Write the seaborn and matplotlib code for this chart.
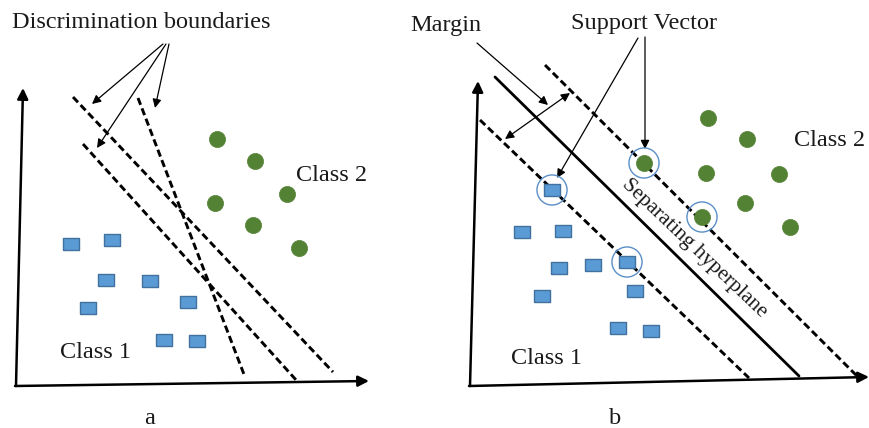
import matplotlib
matplotlib.use("Agg")
import matplotlib.pyplot as plt
import seaborn as sns
import pandas as pd

# ---------------- data (pixel coordinates of the diagram) ----------------
# Panel a
a_class1_x = [71, 112, 106, 150, 88, 188, 164, 197]
a_class1_y = [244, 240, 280, 281, 308, 302, 340, 341]
a_class2_x = [217, 255, 287, 215, 253, 299]
a_class2_y = [139, 161, 194, 203, 225, 248]
a_bound_x0 = [73, 83, 138]
a_bound_y0 = [97, 144, 98]
a_bound_x1 = [333, 297, 245]
a_bound_y1 = [372, 381, 377]
a_arrow_tx = [92, 97, 155]
a_arrow_ty = [104, 148, 108]
a_arrow_sx = [163, 166, 169]
a_arrow_sy = [44, 44, 44]

# Panel b
b_class1_x = [552, 522, 563, 559, 593, 627, 635, 542, 618, 651]
b_class1_y = [190, 232, 231, 268, 265, 262, 291, 296, 328, 331]
b_class2_x = [644, 702, 708, 747, 706, 779, 745, 790]
b_class2_y = [163, 217, 118, 139, 173, 174, 203, 227]
b_sv_x = [644, 702, 552, 627]
b_sv_y = [163, 217, 190, 262]
b_hyper_x = [495, 799]
b_hyper_y = [77, 376]
b_upper_x = [545, 858]
b_upper_y = [65, 377]
b_lower_x = [480, 749]
b_lower_y = [120, 378]

labels = {
    "title_a": "Discrimination boundaries",
    "margin": "Margin",
    "sv": "Support Vector",
    "hyper": "Separating hyperplane",
    "c1": "Class 1",
    "c2": "Class 2",
}

# ---------------- style ----------------
sns.set_theme(style="white")
plt.rcParams["font.family"] = ["Liberation Serif", "DejaVu Serif"]

BLUE = "#5B9BD5"
BLUE_EDGE = "#41719C"
GREEN = "#548235"
RING = "#5B8FC7"

fig = plt.figure(figsize=(8.69, 4.28), dpi=100)
ax = fig.add_axes([0, 0, 1, 1])
ax.set_xlim(0, 869)
ax.set_ylim(428, 0)
ax.axis("off")

rect = [(-1, -0.74), (1, -0.74), (1, 0.74), (-1, 0.74), (-1, -0.74)]

pts = pd.DataFrame({
    "x": a_class1_x + b_class1_x + a_class2_x + b_class2_x,
    "y": a_class1_y + b_class1_y + a_class2_y + b_class2_y,
    "cls": ["Class 1"] * (len(a_class1_x) + len(b_class1_x))
           + ["Class 2"] * (len(a_class2_x) + len(b_class2_x)),
})
c1 = pts[pts.cls == "Class 1"]
c2 = pts[pts.cls == "Class 2"]
sns.scatterplot(data=c1, x="x", y="y", marker=rect, s=135, color=BLUE,
                edgecolor=BLUE_EDGE, linewidth=1.0, ax=ax, legend=False, zorder=3)
sns.scatterplot(data=c2, x="x", y="y", marker="o", s=135, color=GREEN,
                edgecolor=GREEN, linewidth=0.5, ax=ax, legend=False, zorder=3)

# support-vector rings
sns.scatterplot(x=b_sv_x, y=b_sv_y, marker="o", s=470, facecolor="none",
                edgecolor=RING, linewidth=1.0, ax=ax, legend=False, zorder=4)

axis_kw = dict(arrowstyle="-|>", lw=1.8, color="black", mutation_scale=16,
               shrinkA=0, shrinkB=0)
# axes of panel a
ax.annotate("", xy=(23, 88), xytext=(16, 386), arrowprops=axis_kw)
ax.annotate("", xy=(369, 381), xytext=(15, 386), arrowprops=axis_kw)
# axes of panel b
ax.annotate("", xy=(478, 81), xytext=(470, 386), arrowprops=axis_kw)
ax.annotate("", xy=(869, 377), xytext=(469, 386), arrowprops=axis_kw)

dash_kw = dict(color="black", lw=2.1, linestyle=(0, (2.5, 1.3)), zorder=2)
for x0, y0, x1, y1 in zip(a_bound_x0, a_bound_y0, a_bound_x1, a_bound_y1):
    ax.plot([x0, x1], [y0, y1], **dash_kw)
ax.plot(b_upper_x, b_upper_y, **dash_kw)
ax.plot(b_lower_x, b_lower_y, **dash_kw)
ax.plot(b_hyper_x, b_hyper_y, color="black", lw=2.0, zorder=2)

thin_kw = dict(arrowstyle="-|>", lw=0.9, color="black", mutation_scale=13,
               shrinkA=0, shrinkB=0)
for sx, sy, tx, ty in zip(a_arrow_sx, a_arrow_sy, a_arrow_tx, a_arrow_ty):
    ax.annotate("", xy=(tx, ty), xytext=(sx, sy), arrowprops=thin_kw)

# margin arrows
ax.annotate("", xy=(548, 105), xytext=(477, 43), arrowprops=thin_kw)
ax.annotate("", xy=(570, 93), xytext=(505, 139),
            arrowprops=dict(arrowstyle="<|-|>", lw=0.9, color="black",
                            mutation_scale=13, shrinkA=0, shrinkB=0))
# support vector arrows
ax.annotate("", xy=(557, 178), xytext=(638, 38), arrowprops=thin_kw)
ax.annotate("", xy=(645, 149), xytext=(645, 37), arrowprops=thin_kw)

fs = 17.5
tc = "#1a1a1a"
ax.text(12, 22, labels["title_a"], fontsize=fs, ha="left", va="center", color=tc)
ax.text(410, 25, labels["margin"], fontsize=fs, ha="left", va="center", color=tc)
ax.text(571, 23, labels["sv"], fontsize=fs, ha="left", va="center", color=tc)
ax.text(296, 175, labels["c2"], fontsize=fs, ha="left", va="center", color=tc)
ax.text(60, 352, labels["c1"], fontsize=fs, ha="left", va="center", color=tc)
ax.text(794, 140, labels["c2"], fontsize=fs, ha="left", va="center", color=tc)
ax.text(511, 358, labels["c1"], fontsize=fs, ha="left", va="center", color=tc)
ax.text(694, 248, labels["hyper"], fontsize=15.5, ha="center", va="center",
        rotation=-43.5, rotation_mode="anchor", color=tc)
ax.text(150, 419, "a", fontsize=fs, ha="center", va="center", color=tc)
ax.text(615, 419, "b", fontsize=fs, ha="center", va="center", color=tc)

fig.savefig("out.png", dpi=100)
